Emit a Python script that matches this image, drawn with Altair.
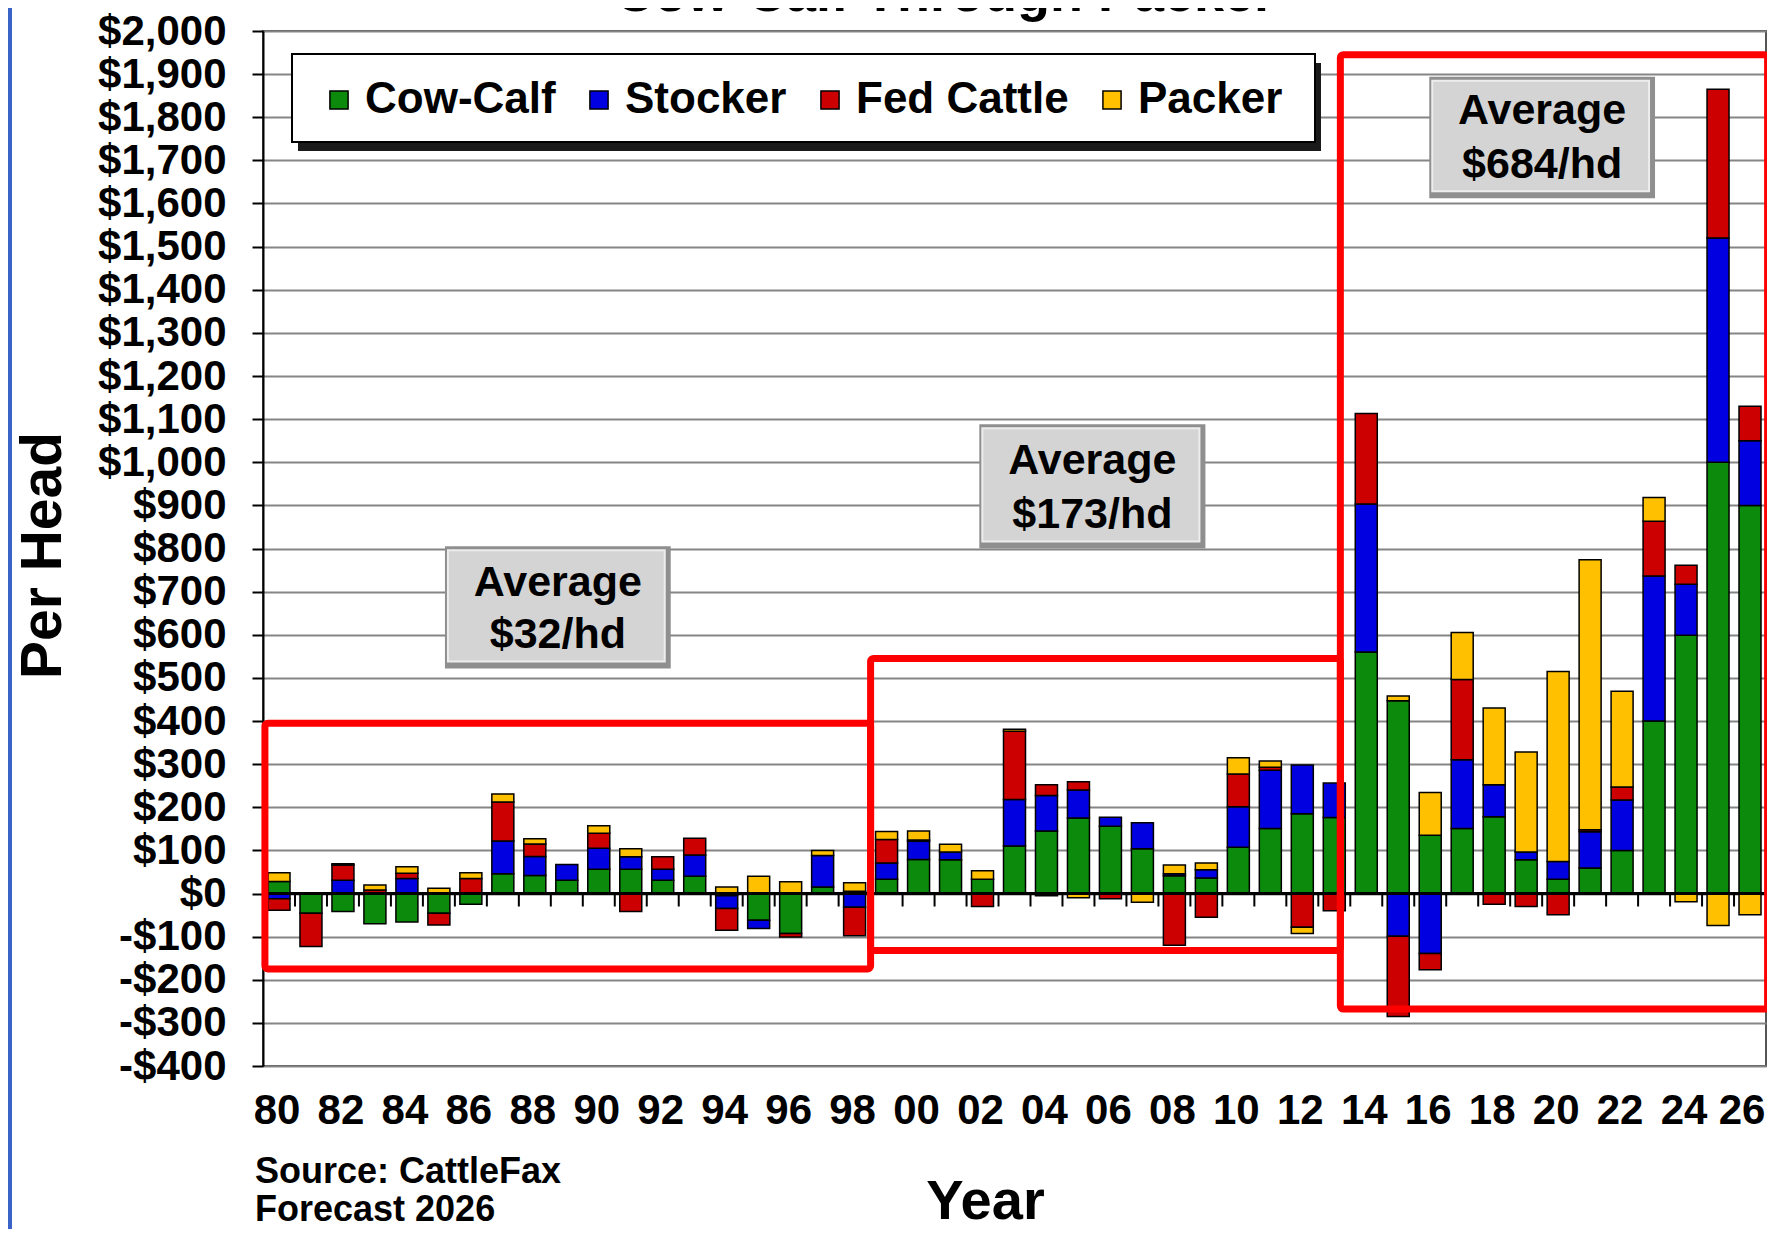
import altair as alt
import pandas as pd

# ---------------- data ----------------
years = list(range(1980, 2027))
cow_calf = [28, -46, -42, -70, -66, -46, -25, 46, 42, 31,
            56, 56, 31, 40, -5, -62, -93, 15, 5, 33,
            79, 78, 33, 110, 145, 175, 156, 104, 41, 36,
            107, 151, 185, 176, 560, 447, 135, 151, 178, 78,
            33, 59, 100, 400, 599, 1000, 900]
stocker = [-12, 0, 31, 0, 35, 0, 0, 76, 44, 36,
           49, 29, 25, 49, -30, -19, 0, 73, -32, 38,
           42, 18, 0, 108, 82, 65, 21, 60, 5, 19,
           94, 135, 113, 80, 343, -99, -139, 159, 74, 18,
           41, 84, 117, 336, 118, 520, 150]
fed_cattle = [-27, -77, 35, 8, 12, -27, 35, 90, 29, 0,
              35, -42, 29, 39, -50, 0, -8, 0, -66, 54,
              3, 0, -30, 158, 25, 19, -12, 0, -120, -55,
              76, 7, -78, -40, 210, -186, -38, 186, -25, -30,
              -49, 5, 30, 127, 44, 345, 80]
packer = [20, 0, 3, 12, 15, 12, 13, 19, 12, 0,
          17, 19, 0, 0, 15, 40, 27, 12, 20, 19,
          21, 18, 20, 5, -5, -10, 0, -20, 20, 16,
          38, 14, -15, 0, 0, 11, 99, 109, 178, 232,
          441, 626, 222, 55, -19, -74, -49]

series_names = ["Cow-Calf", "Stocker", "Fed Cattle", "Packer"]
series_colors = ["#0b8a0b", "#0000e0", "#cc0000", "#ffc000"]

year_labels = [f"{y % 100:02d}" for y in years]
even_labels = [f"{y % 100:02d}" for y in years if y % 2 == 0]

# red period boxes (year position, $ value)
red_x1 = [1979.56, 1998.5, 2013.19]
red_x2 = [1998.5, 2013.19, 2026.55]
red_top = [395, 545, 1945]
red_bottom = [-175, -132, -268]

# "Average" annotation boxes
avg_x1 = [1985.19, 2001.9, 2015.97]
avg_x2 = [1992.25, 2008.97, 2023.03]
avg_top = [805, 1088, 1894]
avg_bottom = [522, 800, 1612]
avg_word_y = [721, 1002, 1814]
avg_value_y = [600, 877, 1689]
avg_values = ["$32/hd", "$173/hd", "$684/hd"]

# ---------------- tables ----------------
rows = []
for i, y in enumerate(years):
    for k, vals in enumerate([cow_calf, stocker, fed_cattle, packer]):
        if vals[i] != 0:
            rows.append({"yr": year_labels[i], "series": series_names[k],
                         "value": vals[i], "order": k})
bars_df = pd.DataFrame(rows)
ticks_df = pd.DataFrame({"yr": year_labels[:-1]})
red_df = pd.DataFrame({"x1": red_x1, "x2": red_x2, "top": red_top, "bottom": red_bottom})
avg_df = pd.DataFrame({"x1": avg_x1, "x2": avg_x2, "top": avg_top, "bottom": avg_bottom,
                       "wy": avg_word_y, "vy": avg_value_y, "label": avg_values})
avg_df["xc"] = (avg_df["x1"] + avg_df["x2"]) / 2

FONT = "Liberation Sans"
W, H = 1503, 1035

yscale = alt.Scale(domain=[-400, 2000], nice=False)
yaxis = alt.Axis(
    values=list(range(-400, 2001, 100)),
    labelExpr="datum.value < 0 ? '-$' + format(-datum.value, ',') : '$' + format(datum.value, ',')",
    labelFontSize=42, labelFont=FONT, labelFontWeight="bold", labelColor="black",
    labelPadding=26, tickSize=11, tickWidth=2, tickColor="black",
    domainColor="black", domainWidth=2,
    grid=True, gridColor="#858585", gridWidth=2,
    title="Per Head", titleFontSize=57, titleFont=FONT, titleFontWeight="bold",
    titleColor="black", titleAngle=270, titleX=-220, titleY=524,
    titleAlign="center", titleBaseline="middle",
)


def Y(field, **kw):
    return alt.Y(field, scale=yscale, axis=yaxis, **kw)


xband = alt.Scale(domain=year_labels, paddingInner=0, paddingOuter=0)
xq = alt.Scale(domain=[1979.5, 2026.5], nice=False, zero=False)

one = pd.DataFrame({"a": [0]})

# legend frame (drawn behind the real legend)
legend_shadow = alt.Chart(one).mark_rect(color="#1a1a1a").encode(
    x=alt.value(35), x2=alt.value(1058), y=alt.value(32), y2=alt.value(120))
legend_box = alt.Chart(one).mark_rect(
    fill="white", stroke="black", strokeWidth=2).encode(
    x=alt.value(29), x2=alt.value(1052), y=alt.value(23), y2=alt.value(111))

zero_ticks = alt.Chart(ticks_df).mark_rule(
    color="black", strokeWidth=2, xOffset=16, y2Offset=13).encode(
    x=alt.X("yr:O", scale=xband, axis=None),
    y=alt.YDatum(0, scale=yscale, axis=yaxis),
    y2=alt.Y2Datum(0),
)

bars = alt.Chart(bars_df).mark_bar(size=22, stroke="black", strokeWidth=1.5).encode(
    x=alt.X("yr:O", scale=xband, sort=year_labels,
            axis=alt.Axis(values=even_labels, labelAngle=0, labelFontSize=42,
                          labelFont=FONT, labelFontWeight="bold", labelColor="black",
                          labelBaseline="alphabetic", labelPadding=57,
                          labelOffset={"condition": {"test": "datum.value === '26'", "value": -8},
                                       "value": -2},
                          ticks=False, tickSize=0, domain=False, grid=False,
                          title="Year", titleFontSize=56, titleFont=FONT,
                          titleFontWeight="bold", titleColor="black",
                          titleX=722, titleY=152, titleAlign="center",
                          titleBaseline="alphabetic")),
    y=Y("value:Q", stack="zero"),
    color=alt.Color("series:N",
                    scale=alt.Scale(domain=series_names, range=series_colors),
                    legend=alt.Legend(orient="none", legendX=54, legendY=47,
                                      direction="horizontal", title=None,
                                      labelFontSize=44, labelFont=FONT,
                                      labelFontWeight="bold", labelColor="black",
                                      labelLimit=0,
                                      symbolType="square", symbolSize=330,
                                      symbolStrokeColor="black", symbolStrokeWidth=1.5,
                                      columnPadding=21, labelOffset=4, padding=0)),
    order=alt.Order("order:Q", sort="ascending"),
)

zero_line = alt.Chart(one).mark_rule(color="black", strokeWidth=3).encode(
    y=alt.YDatum(0, scale=yscale, axis=yaxis))

avg_bevel = alt.Chart(avg_df).mark_rect(fill="#8f8f8f").encode(
    x=alt.X("x1:Q", scale=xq, axis=None), x2="x2:Q",
    y=Y("top:Q"), y2="bottom:Q")
avg_face = alt.Chart(avg_df).mark_rect(
    fill="#d4d4d4", stroke="#ededed", strokeWidth=2,
    xOffset=3, x2Offset=-6, yOffset=4, y2Offset=-7).encode(
    x=alt.X("x1:Q", scale=xq, axis=None), x2="x2:Q",
    y=Y("top:Q"), y2="bottom:Q")
avg_word = alt.Chart(avg_df).mark_text(
    text="Average", fontSize=43, font=FONT, fontWeight="bold", color="black",
    align="center", baseline="middle").encode(
    x=alt.X("xc:Q", scale=xq, axis=None), y=Y("wy:Q"))
avg_val = alt.Chart(avg_df).mark_text(
    fontSize=43, font=FONT, fontWeight="bold", color="black",
    align="center", baseline="middle").encode(
    x=alt.X("xc:Q", scale=xq, axis=None), y=Y("vy:Q"), text="label:N")

red_boxes = alt.Chart(red_df).mark_rect(
    filled=False, stroke="#ff0000", strokeWidth=7, cornerRadius=3).encode(
    x=alt.X("x1:Q", scale=xq, axis=None), x2="x2:Q",
    y=Y("top:Q"), y2="bottom:Q")

source = alt.Chart(one).mark_text(
    fontSize=36, font=FONT, fontWeight="bold", color="black",
    align="left", baseline="alphabetic", lineHeight=38).encode(
    x=alt.value(-8), y=alt.value(1152),
    text=alt.value(["Source: CattleFax", "Forecast 2026"]))

title = alt.Chart(one).mark_text(
    fontSize=54, font=FONT, fontWeight="bold", color="black",
    align="center", baseline="alphabetic").encode(
    x=alt.value(682), y=alt.value(-20), text=alt.value("Cow-Calf Through Packer"))

left_border = alt.Chart(one).mark_rule(color="#3a63c8", strokeWidth=4).encode(
    x=alt.value(-253), y=alt.value(-23), y2=alt.value(1198))

chart = alt.layer(
    legend_shadow, legend_box, zero_ticks, bars, zero_line,
    avg_bevel, avg_face, avg_word, avg_val, red_boxes, source, title, left_border,
).resolve_scale(x="independent").properties(
    width=W, height=H,
    autosize=alt.AutoSizeParams(type="none"),
    padding={"left": 255, "top": 23, "right": 1, "bottom": 163},
    background="white",
).configure_view(stroke="#555555", strokeWidth=2)

chart.save("out.html", embed_options={"renderer": "svg", "actions": False})
